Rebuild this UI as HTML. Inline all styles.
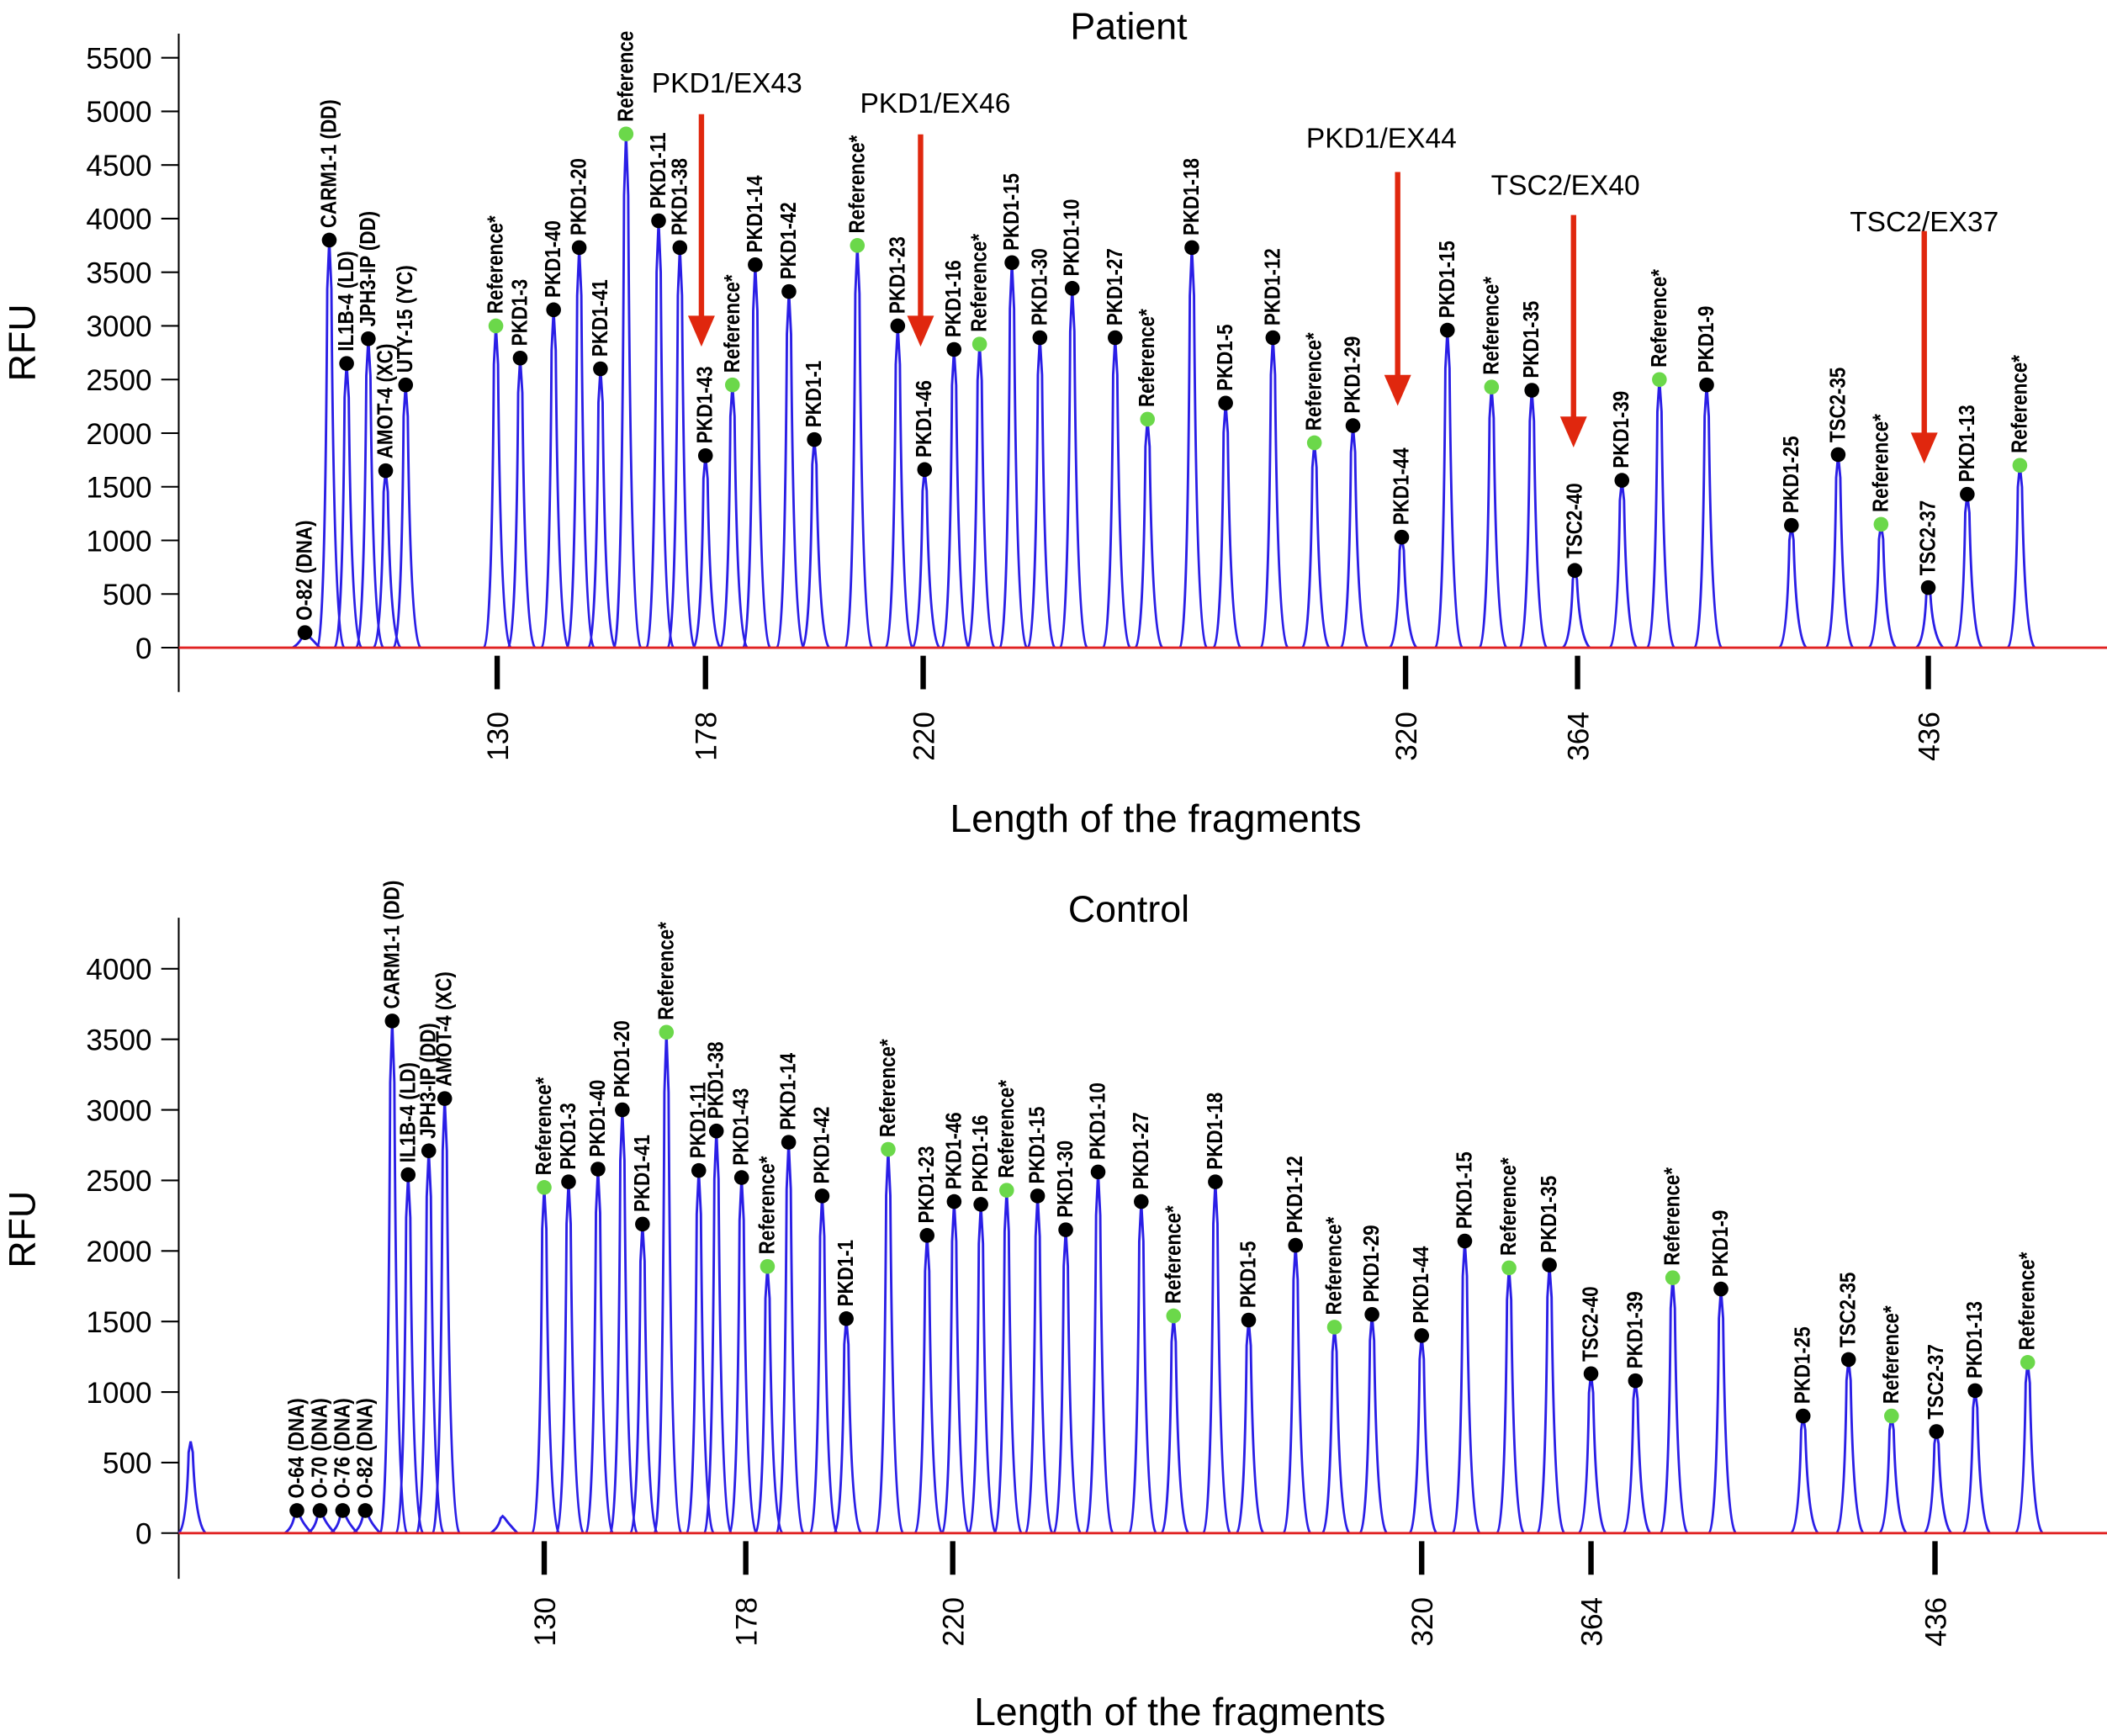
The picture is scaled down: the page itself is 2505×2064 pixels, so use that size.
<!DOCTYPE html>
<html><head><meta charset="utf-8"><style>
html,body{margin:0;padding:0;background:#fff;}
svg{display:block;font-family:"Liberation Sans",Arial,sans-serif;}
</style></head><body>
<svg id="chart" width="2505" height="2064" viewBox="0 0 1568 1292" preserveAspectRatio="none" xmlns="http://www.w3.org/2000/svg"></svg>
<script>
// ---- Patient panel data ----
const topTickBp = [130,178,220,320,364,436];
const topNames = ["O-82 (DNA)","CARM1-1 (DD)","IL1B-4 (LD)","JPH3-IP (DD)","AMOT-4 (XC)","UTY-15 (YC)","Reference*","PKD1-3","PKD1-40","PKD1-20","PKD1-41","Reference","PKD1-11","PKD1-38","PKD1-43","Reference*","PKD1-14","PKD1-42","PKD1-1","Reference*","PKD1-23","PKD1-46","PKD1-16","Reference*","PKD1-15","PKD1-30","PKD1-10","PKD1-27","Reference*","PKD1-18","PKD1-5","PKD1-12","Reference*","PKD1-29","PKD1-44","PKD1-15","Reference*","PKD1-35","TSC2-40","PKD1-39","Reference*","PKD1-9","PKD1-25","TSC2-35","Reference*","TSC2-37","PKD1-13","Reference*"];
const topSizes = [85.7,91.3,95.3,100.3,104.3,108.9,129.7,135.3,143,148.9,153.8,159.7,167.2,172.1,178,183.2,187.6,194.1,199,207.3,215.1,220.3,226.4,231.7,238.4,244.2,250.9,259.8,266.5,275.7,282.7,292.5,301.1,309.1,319.2,330.7,342,352.3,363.3,373.1,380.8,390.5,407.9,417.5,426.3,436,444,454.8];
const topHeights = [140,3800,2650,2880,1650,2450,3000,2700,3150,3730,2600,4790,3980,3730,1790,2450,3570,3320,1940,3750,3000,1660,2780,2830,3590,2890,3350,2890,2130,3730,2280,2890,1910,2070,1030,2960,2430,2400,720,1560,2500,2450,1140,1800,1150,560,1430,1700];
const topYTicks = [0,500,1000,1500,2000,2500,3000,3500,4000,4500,5000,5500];
const arrowNames = ["PKD1/EX43","PKD1/EX46","PKD1/EX44","TSC2/EX40","TSC2/EX37"];
const arrowSizes = [178,220.3,319.2,364,436];

// ---- Control panel data ----
const botTickBp = [130,178,220,320,364,436];
const botNames = ["","O-64 (DNA)","O-70 (DNA)","O-76 (DNA)","O-82 (DNA)","CARM1-1 (DD)","IL1B-4 (LD)","JPH3-IP (DD)","AMOT-4 (XC)","","Reference*","PKD1-3","PKD1-40","PKD1-20","PKD1-41","Reference*","PKD1-11","PKD1-38","PKD1-43","Reference*","PKD1-14","PKD1-42","PKD1-1","Reference*","PKD1-23","PKD1-46","PKD1-16","Reference*","PKD1-15","PKD1-30","PKD1-10","PKD1-27","Reference*","PKD1-18","PKD1-5","PKD1-12","Reference*","PKD1-29","PKD1-44","PKD1-15","Reference*","PKD1-35","TSC2-40","PKD1-39","Reference*","PKD1-9","PKD1-25","TSC2-35","Reference*","TSC2-37","PKD1-13","Reference*"];
const botSizes = [45.8,71.1,76.6,82,87.4,93.8,97.6,102.5,106.3,120.1,130,135.8,142.8,148.6,153.4,159.1,166.8,171,177,182.4,186.7,193.5,198.4,206.9,214.8,220.3,226,231.5,238.1,244.1,251,260.2,267.1,276,283.1,293.1,301.4,309.4,320,331.2,342.7,353.2,364,373.3,381.1,391.2,408.4,417.9,426.9,436.3,444.4,455.4];
const botHeights = [650,160,160,160,160,3630,2540,2710,3080,120,2450,2490,2580,3000,2190,3550,2570,2850,2520,1890,2770,2390,1520,2720,2110,2350,2330,2430,2390,2150,2560,2350,1540,2490,1510,2040,1460,1550,1400,2070,1880,1900,1130,1080,1810,1730,830,1230,830,720,1010,1210];
const botYTicks = [0,500,1000,1500,2000,2500,3000,3500,4000];

const NS="http://www.w3.org/2000/svg";
const svg=document.getElementById('chart');
function mk(tag,attrs,parent){const e=document.createElementNS(NS,tag);for(const k in attrs)e.setAttribute(k,attrs[k]);(parent||svg).appendChild(e);return e;}

function makeX(bpArr,pxArr){
  return function(bp){
    let i=0;
    if(bp<=bpArr[0]) i=0; else if(bp>=bpArr[bpArr.length-1]) i=bpArr.length-2;
    else { while(bp>bpArr[i+1]) i++; }
    const s=(pxArr[i+1]-pxArr[i])/(bpArr[i+1]-bpArr[i]);
    return pxArr[i]+(bp-bpArr[i])*s;
  };
}

function panel(cfg){
  const g=mk('g',{});
  
  
  const x=makeX(cfg.tickBp,cfg.tickPx);
  const y=v=>cfg.y0-v*cfg.ppu;
  const t=mk('text',{x:840,y:cfg.titleY,'font-size':28,'text-anchor':'middle',fill:'#000'},g);
  t.textContent=cfg.title;
  
  
  const ya=mk('line',{x1:133,y1:cfg.axTop,x2:133,y2:cfg.axBot,stroke:'#000','stroke-width':1.3},g);
  
  
  cfg.yTicks.forEach(v=>{
    mk('line',{x1:120,y1:y(v),x2:133,y2:y(v),stroke:'#000','stroke-width':1.3},g);
    const l=mk('text',{x:113,y:y(v)+8,'font-size':22,'text-anchor':'end',fill:'#000'},g);
    l.textContent=v;
    
    
  });
  const rfu=mk('text',{x:0,y:0,'font-size':28,'text-anchor':'middle',transform:`translate(26,${cfg.rfuY}) rotate(-90)`,fill:'#000'},g);
  rfu.textContent='RFU';
  
  
  cfg.sizes.forEach((s,i)=>{
    const px=x(s), top=y(cfg.heights[i]), b=cfg.y0;
    const p=mk('path',{d:`M${px-9},${b} Q${px-3},${b-4} ${px-1.5},${top+(b-top)*0.12} L${px},${top} L${px+1.6},${top+(b-top)*0.12} Q${px+3.5},${b-8} ${px+11},${b}`,fill:'none',stroke:'#2a1ee6','stroke-width':1.8},g);
    
    
    const name=cfg.names[i];
    if(!name) return;
    const ref=name.indexOf('Reference')===0;
    const d=mk('circle',{cx:px,cy:top,r:5.5,fill:ref?'#6bd84a':'#000'},g);
    
    
    const lt=mk('text',{x:0,y:0,'font-size':14,'font-weight':'bold','transform':`translate(${px+5},${top-9}) rotate(-90) scale(1,1.15)`,fill:'#000'},g);
    lt.textContent=name;
    
    
  });
  const bl=mk('line',{x1:133,y1:cfg.y0,x2:1568,y2:cfg.y0,stroke:'#e02222','stroke-width':1.8},g);
  
  
  cfg.tickBp.forEach(v=>{
    const px=x(v);
    mk('line',{x1:px,y1:cfg.y0+6,x2:px,y2:cfg.y0+31,stroke:'#000','stroke-width':4},g);
    const l=mk('text',{x:0,y:0,'font-size':22,'text-anchor':'middle',transform:`translate(${px+8},${cfg.y0+66}) rotate(-90)`,fill:'#000'},g);
    l.textContent=v;
    
    
  });
  const xt=mk('text',{x:cfg.xTitleX,y:cfg.xTitleY,'font-size':29,'text-anchor':'middle',fill:'#000'},g);
  xt.textContent='Length of the fragments';
  
  
  return {x,y};
}

const P=panel({name:'patient-panel',title:'Patient',titleY:29,tickBp:topTickBp,tickPx:[370,525,687,1046,1174,1435],y0:482,ppu:439/5500,yTicks:topYTicks,axTop:25,axBot:515,rfuY:255,sizes:topSizes,heights:topHeights,names:topNames,xTitleX:860,xTitleY:619});
panel({name:'control-panel',title:'Control',titleY:686,tickBp:botTickBp,tickPx:[405,555,709,1058,1184,1440],y0:1141,ppu:420/4000,yTicks:botYTicks,axTop:683,axBot:1175,rfuY:915,sizes:botSizes,heights:botHeights,names:botNames,xTitleX:878,xTitleY:1284});

const arrowTextPos=[[541,69],[696,84],[1028,110],[1165,145],[1432,172]];
const arrowTop=[85,100,128,160,172];
const arrowTip=[258,258,302,333,345];
arrowNames.forEach((n,i)=>{
  const g=mk('g',{});
  
  
  const ax=P.x(arrowSizes[i])-3;
  const t=mk('text',{x:arrowTextPos[i][0],y:arrowTextPos[i][1],'font-size':21,'text-anchor':'middle',fill:'#000'},g);
  t.textContent=n;
  
  
  mk('line',{x1:ax,y1:arrowTop[i],x2:ax,y2:arrowTip[i]-20,stroke:'#e0270e','stroke-width':4},g);
  mk('polygon',{points:`${ax-10},${arrowTip[i]-23} ${ax+10},${arrowTip[i]-23} ${ax},${arrowTip[i]}`,fill:'#e0270e'},g);
});
</script>
</body></html>
